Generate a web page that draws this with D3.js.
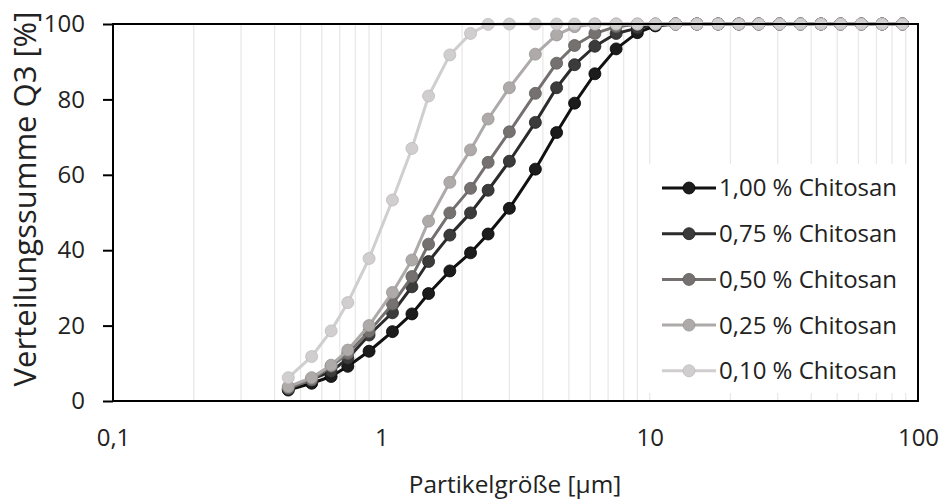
<!DOCTYPE html>
<html>
<head>
<meta charset="utf-8">
<script src="https://cdn.jsdelivr.net/npm/d3@7"></script>
<style>
  html, body { margin: 0; padding: 0; background: #fff; }
  svg { display: block; font-family: "Open Sans", "Noto Sans", sans-serif; }
</style>
</head>
<body>
<svg id="chart" width="940" height="499"></svg>
<script>
// Particle size classes [µm]
const sizes = [0.45, 0.55, 0.65, 0.75, 0.90, 1.10, 1.30, 1.50, 1.80, 2.15, 2.50, 3.00, 3.75, 4.50, 5.25, 6.25, 7.50, 9.00, 10.50, 12.50, 15.00, 18.00, 21.50, 25.50, 30.50, 36.50, 43.50, 51.50, 61.50, 73.50, 87.50];

const seriesNames = ["1,00 % Chitosan", "0,75 % Chitosan", "0,50 % Chitosan", "0,25 % Chitosan", "0,10 % Chitosan"];

const q3_100 = [2.9, 4.7, 6.5, 9.2, 13.2, 18.4, 23.1, 28.5, 34.5, 39.3, 44.3, 51.1, 61.5, 71.2, 79.0, 86.8, 93.4, 97.7, 99.5, 100, 100, 100, 100, 100, 100, 100, 100, 100, 100, 100, 100];
const q3_075 = [3.1, 5.8, 7.8, 11.3, 17.5, 23.4, 30.3, 37.0, 44.0, 49.9, 55.9, 63.6, 73.9, 83.1, 89.2, 94.1, 97.5, 98.9, 99.8, 100, 100, 100, 100, 100, 100, 100, 100, 100, 100, 100, 100];
const q3_050 = [3.4, 5.6, 9.2, 12.6, 18.4, 25.7, 33.0, 41.6, 49.9, 56.4, 63.3, 71.4, 81.6, 89.6, 94.3, 97.5, 99.3, 99.9, 100, 100, 100, 100, 100, 100, 100, 100, 100, 100, 100, 100, 100];
const q3_025 = [3.8, 6.2, 9.5, 13.5, 20.0, 28.8, 37.4, 47.7, 58.0, 66.6, 74.8, 83.1, 92.0, 97.1, 99.3, 100, 100, 100, 100, 100, 100, 100, 100, 100, 100, 100, 100, 100, 100, 100, 100];
const q3_010 = [6.2, 11.8, 18.6, 26.1, 37.8, 53.3, 67.0, 80.9, 91.8, 97.5, 99.9, 100, 100, 100, 100, 100, 100, 100, 100, 100, 100, 100, 100, 100, 100, 100, 100, 100, 100, 100, 100];

const seriesValues = [q3_100, q3_075, q3_050, q3_025, q3_010];
const lineColors = ["#111111", "#2b2b2b", "#757070", "#aeaaaa", "#d0cece"];
const fillColors = ["#1c1c1c", "#3b3b3b", "#767171", "#aeaaaa", "#d0cece"];
const edgeColors = ["#000000", "#1f1f1f", "#5e5a5a", "#999595", "#bdbbbb"];

const xTicks = [0.1, 1, 10, 100];
const xTickLabels = ["0,1", "1", "10", "100"];
const yTicks = [0, 20, 40, 60, 80, 100];

const FS = 24;
const svg = d3.select("#chart");
const m = { left: 113, right: 918, top: 24, bottom: 401 };

const x = d3.scaleLog().domain([0.1, 100]).range([m.left, m.right]);
const y = d3.scaleLinear().domain([0, 100]).range([m.bottom, m.top]);

// Minor vertical gridlines
const gridVals = [];
for (let d = 0.1; d < 100; d *= 10) {
  for (let k = 1; k <= 9; k++) {
    const v = +(d * k).toPrecision(3);
    if (v > 0.1 && v < 100) gridVals.push(v);
  }
}
svg.append("g").selectAll("line").data(gridVals).join("line")
  .attr("x1", d => x(d)).attr("x2", d => x(d))
  .attr("y1", m.top).attr("y2", m.bottom)
  .attr("stroke", "#e9e9e9").attr("stroke-width", 1.3);

// Y axis
const yAxis = d3.axisLeft(y).tickValues(yTicks).tickSize(10).tickPadding(18).tickFormat(d3.format("d"));
const gy = svg.append("g").attr("transform", `translate(${m.left},0)`).call(yAxis);
gy.select(".domain").remove();
gy.selectAll(".tick line").attr("stroke", "#000").attr("stroke-width", 2);
gy.selectAll(".tick text").attr("font-size", FS).attr("fill", "#222").attr("font-family", "\"Open Sans\", sans-serif");

// X axis (labels only)
const xAxis = d3.axisBottom(x).tickValues(xTicks).tickSize(0).tickPadding(28)
  .tickFormat((d, i) => xTickLabels[i]);
const gx = svg.append("g").attr("transform", `translate(0,${m.bottom})`).call(xAxis);
gx.select(".domain").remove();
gx.selectAll(".tick text").attr("font-size", FS).attr("fill", "#222").attr("font-family", "\"Open Sans\", sans-serif");

// Series
const line = d3.line().x((d, i) => x(sizes[i])).y(d => y(d));
seriesValues.forEach((vals, s) => {
  const g = svg.append("g");
  g.append("path").datum(vals).attr("d", line)
    .attr("fill", "none").attr("stroke", lineColors[s]).attr("stroke-width", 3)
    .attr("stroke-linejoin", "round");
  g.selectAll("circle").data(vals).join("circle")
    .attr("cx", (d, i) => x(sizes[i])).attr("cy", d => y(d)).attr("r", 6)
    .attr("fill", fillColors[s]).attr("stroke", edgeColors[s]).attr("stroke-width", 0.8);
});

// Frame
svg.append("rect").attr("x", m.left).attr("y", m.top)
  .attr("width", m.right - m.left).attr("height", m.bottom - m.top)
  .attr("fill", "none").attr("stroke", "#000").attr("stroke-width", 2);

// Legend
const lg = svg.append("g");
lg.append("rect").attr("x", 649).attr("y", 164).attr("width", m.right - 649 - 1).attr("height", 229).attr("fill", "#fff");
const rowY0 = 188, rowStep = 45.7;
seriesNames.forEach((name, s) => {
  const yy = rowY0 + s * rowStep;
  lg.append("line").attr("x1", 662).attr("x2", 716).attr("y1", yy).attr("y2", yy)
    .attr("stroke", lineColors[s]).attr("stroke-width", 3);
  lg.append("circle").attr("cx", 689).attr("cy", yy).attr("r", 6)
    .attr("fill", fillColors[s]).attr("stroke", edgeColors[s]).attr("stroke-width", 0.8);
  lg.append("text").attr("x", 719).attr("y", yy).attr("dy", "0.35em")
    .attr("font-size", FS).attr("fill", "#222").text(name);
});

// Axis titles
svg.append("text").attr("transform", `translate(36,199) rotate(-90)`)
  .attr("text-anchor", "middle").attr("font-size", 31).attr("fill", "#222")
  .text("Verteilungssumme Q3 [%]");
svg.append("text").attr("x", 515).attr("y", 493)
  .attr("text-anchor", "middle").attr("font-size", 24.4).attr("fill", "#222")
  .text("Partikelgröße [µm]");
</script>
</body>
</html>
